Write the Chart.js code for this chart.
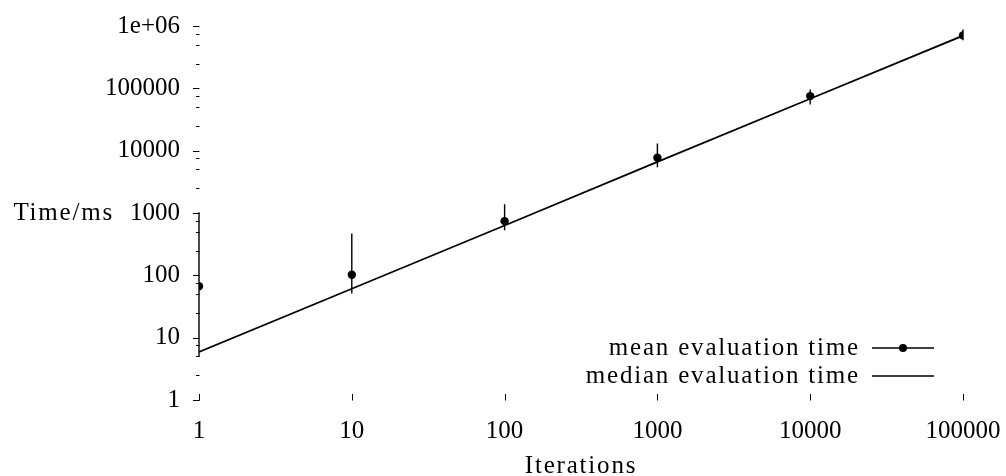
<!DOCTYPE html>
<html>
<head>
<meta charset="utf-8">
<script src="https://cdn.jsdelivr.net/npm/chart.js@4.4.1/dist/chart.umd.min.js"></script>
<style>
  html, body { margin: 0; padding: 0; background: #fff; }
  #wrap { width: 1006px; height: 476px; position: relative; }
</style>
</head>
<body>
<div id="wrap"><canvas id="c"></canvas></div>
<script>
// ---- data ----
const iterations = [1, 10, 100, 1000, 10000, 100000];
const meanTime   = [67, 102, 740, 7700, 75000, 707000];
const errLow     = [4.9, 51, 530, 5400, 55000, 590000];
const errHigh    = [1030, 470, 1380, 13000, 96000, 880000];
const medianTime = [5.9, 61, 630, 6600, 68000, 700000];

const xTickValues = [1, 10, 100, 1000, 10000, 100000];
const xTickLabels = ['1', '10', '100', '1000', '10000', '100000'];
const yTickValues = [1, 10, 100, 1000, 10000, 100000, 1000000];
const yTickLabels = ['1', '10', '100', '1000', '10000', '100000', '1e+06'];
const yMinorFactors = [2.5, 5, 7.5];

const seriesLabels = ['mean evaluation time', 'median evaluation time'];
const xTitle = 'Iterations';
const yTitle = 'Time/ms';

const FONT = "'Liberation Serif', 'DejaVu Serif', serif";
const FSIZE = 25;

const errorBars = {
  id: 'errorBars',
  beforeDatasetsDraw(chart) {
    const { ctx, scales: { x, y } } = chart;
    ctx.save();
    ctx.strokeStyle = '#000';
    ctx.lineWidth = 1.4;
    ctx.beginPath();
    iterations.forEach((it, i) => {
      const px = x.getPixelForValue(it);
      ctx.moveTo(px, y.getPixelForValue(errLow[i]));
      ctx.lineTo(px, y.getPixelForValue(errHigh[i]));
    });
    ctx.stroke();
    ctx.restore();
  }
};

const tickMarks = {
  id: 'tickMarks',
  afterDraw(chart) {
    const { ctx, chartArea: a, scales: { x, y } } = chart;
    ctx.save();
    ctx.strokeStyle = '#000';
    ctx.lineWidth = 1;
    ctx.beginPath();
    yTickValues.forEach(v => {
      const py = Math.round(y.getPixelForValue(v)) + 0.5;
      ctx.moveTo(a.left - 6, py); ctx.lineTo(a.left + 0.5, py);
    });
    for (let d = 0; d < yTickValues.length - 1; d++) {
      yMinorFactors.forEach(f => {
        const py = Math.round(y.getPixelForValue(yTickValues[d] * f)) + 0.5;
        ctx.moveTo(a.left - 3, py); ctx.lineTo(a.left + 0.5, py);
      });
    }
    xTickValues.forEach(v => {
      const px = Math.round(x.getPixelForValue(v)) + 0.5;
      ctx.moveTo(px, a.bottom + 0.5); ctx.lineTo(px, a.bottom - 6);
    });
    ctx.stroke();

    // axis titles
    ctx.fillStyle = '#000';
    ctx.font = FSIZE + 'px ' + FONT;
    ctx.letterSpacing = '1.8px';
    ctx.textBaseline = 'middle';
    ctx.textAlign = 'right';
    ctx.fillText(yTitle, 114, (a.top + a.bottom) / 2);
    ctx.textAlign = 'center';
    ctx.fillText(xTitle, (a.left + a.right) / 2, 466);

    // legend
    const rows = [348, 376];
    const textRight = 860, l0 = 872, l1 = 934;
    rows.forEach((ry, i) => {
      ctx.textAlign = 'right';
      ctx.fillText(chart.data.datasets[i].label, textRight, ry);
      ctx.beginPath();
      ctx.lineWidth = 1.5;
      ctx.moveTo(l0, ry); ctx.lineTo(l1, ry);
      ctx.stroke();
      if (i === 0) {
        ctx.beginPath();
        ctx.arc((l0 + l1) / 2, ry, 4, 0, Math.PI * 2);
        ctx.fill();
      }
    });
    ctx.restore();
  }
};

new Chart(document.getElementById('c'), {
  type: 'line',
  data: {
    datasets: [
      {
        label: seriesLabels[0],
        data: iterations.map((v, i) => ({ x: v, y: meanTime[i] })),
        showLine: false,
        pointRadius: 4.2,
        pointBackgroundColor: '#000',
        pointBorderColor: '#000',
        pointBorderWidth: 0
      },
      {
        label: seriesLabels[1],
        data: iterations.map((v, i) => ({ x: v, y: medianTime[i] })),
        borderColor: '#000',
        borderWidth: 1.8,
        pointRadius: 0,
        tension: 0
      }
    ]
  },
  options: {
    responsive: true,
    maintainAspectRatio: false,
    animation: false,
    events: [],
    layout: { padding: { left: 0, right: 43, top: 26, bottom: 0 } },
    plugins: { legend: { display: false }, tooltip: { enabled: false } },
    scales: {
      x: {
        type: 'logarithmic',
        min: 1, max: 100000,
        grid: { display: false, drawTicks: false },
        border: { display: false },
        afterBuildTicks: s => { s.ticks = xTickValues.map(v => ({ value: v })); },
        afterFit: s => { s.height = 76; s.paddingLeft = 0; s.paddingRight = 0; },
        ticks: {
          autoSkip: false, maxRotation: 0, padding: 16,
          color: '#000', font: { family: FONT, size: FSIZE },
          callback: (v, i) => xTickLabels[i]
        }
      },
      y: {
        type: 'logarithmic',
        min: 1, max: 1000000,
        grid: { display: false, drawTicks: false },
        border: { display: false },
        afterBuildTicks: s => { s.ticks = yTickValues.map(v => ({ value: v })); },
        afterFit: s => { s.width = 199; s.paddingTop = 0; s.paddingBottom = 0; },
        ticks: {
          autoSkip: false, padding: 19,
          color: '#000', font: { family: FONT, size: FSIZE },
          callback: (v, i) => yTickLabels[i]
        }
      }
    }
  },
  plugins: [errorBars, tickMarks]
});
</script>
</body>
</html>
